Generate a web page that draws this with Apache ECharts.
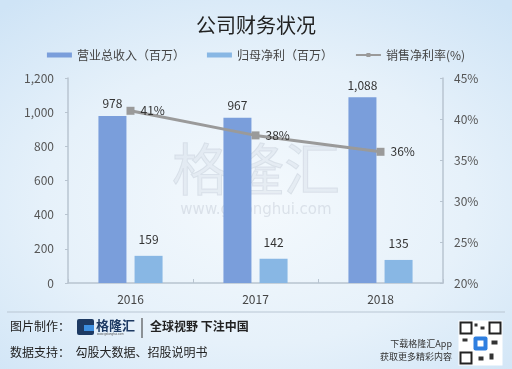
<!DOCTYPE html>
<html><head><meta charset="utf-8">
<script src="https://cdn.jsdelivr.net/npm/echarts@6/dist/echarts.min.js"></script>
<style>
html,body{margin:0;padding:0;}
#c{width:512px;height:369px;background:radial-gradient(ellipse 75% 70% at 50% 55%, #f4f9fd 0%, #e6f1fa 55%, #cfe4f6 100%);}
</style></head><body><div id="c"></div>
<script>
const categories = ['2016', '2017', '2018'];
const revenue = [978, 967, 1088];
const netProfit = [159, 142, 135];
const margin = [41, 38, 36];
const leftTicks = {min: 0, max: 1200, interval: 200};
const rightTicks = {min: 20, max: 45, interval: 5};

const chart = echarts.init(document.getElementById('c'));
const F = '"Noto Sans CJK SC", "Noto Sans", sans-serif';
chart.setOption({
  backgroundColor: 'transparent',
  textStyle: {fontFamily: F},
  title: {text: '公司财务状况', left: 'center', top: 10,
    textStyle: {fontSize: 20, fontWeight: 'normal', color: '#222', fontFamily: F}},
  legend: {top: 44, left: 'center', itemWidth: 25, itemHeight: 5, itemGap: 22,
    textStyle: {fontSize: 12, color: '#444', fontFamily: F},
    data: [{name: '营业总收入（百万）', icon: 'rect'}, {name: '归母净利（百万）', icon: 'rect'}, {name: '销售净利率(%)'}]},
  grid: {left: 68, right: 69, top: 78, bottom: 86},
  xAxis: {type: 'category', data: categories,
    axisLine: {lineStyle: {color: '#b8c4d0', width: 1.5}},
    axisTick: {show: true, inside: true, length: 4, lineStyle: {color: '#b8c4d0'}},
    axisLabel: {color: '#444', fontSize: 12, margin: 10}},
  yAxis: [
    {type: 'value', min: leftTicks.min, max: leftTicks.max, interval: leftTicks.interval,
      axisLine: {show: true, lineStyle: {color: '#b8c4d0', width: 1.5}},
      axisTick: {show: true, length: 3, lineStyle: {color: '#b8c4d0'}},
      splitLine: {show: false},
      axisLabel: {color: '#555', fontSize: 12, margin: 14,
        formatter: v => v.toLocaleString('en-US')}},
    {type: 'value', min: rightTicks.min, max: rightTicks.max, interval: rightTicks.interval,
      axisLine: {show: true, lineStyle: {color: '#b8c4d0', width: 1.5}},
      axisTick: {show: true, inside: true, length: 3, lineStyle: {color: '#b8c4d0'}},
      splitLine: {show: false},
      axisLabel: {color: '#555', fontSize: 12, margin: 11, formatter: '{value}%'}}
  ],
  series: [
    {name: '营业总收入（百万）', type: 'bar', data: revenue, barWidth: 28, barGap: '29%', z: 3,
      itemStyle: {color: '#7a9edb'},
      label: {show: true, position: 'top', distance: 6, color: '#333', fontSize: 12,
        formatter: p => p.value.toLocaleString('en-US')}},
    {name: '归母净利（百万）', type: 'bar', data: netProfit, barWidth: 28, z: 3,
      itemStyle: {color: '#88b7e4'},
      label: {show: true, position: 'top', distance: 10, color: '#333', fontSize: 12}},
    {name: '销售净利率(%)', type: 'line', yAxisIndex: 1, data: margin,
      symbol: 'rect', symbolSize: 8, z: 5,
      lineStyle: {color: '#9a9a9a', width: 3}, itemStyle: {color: '#9a9a9a'},
      label: {show: true, position: 'right', distance: 6, color: '#333', fontSize: 12, formatter: '{c}%'}}
  ],
  graphic: [
    {type: 'text', left: 'center', top: 140, z: -10, silent: true,
      style: {text: '格隆汇', font: '56px "Noto Sans CJK SC"', fill: 'rgba(195,202,214,0.25)', stroke: 'rgba(175,184,198,0.3)', lineWidth: 1}},
    {type: 'text', left: 'center', top: 203, z: -10, silent: true,
      style: {text: 'www.gelonghui.com', font: '15px "DejaVu Sans"', fill: 'rgba(185,192,205,0.4)'}},
    {type: 'line', shape: {x1: 7, y1: 312, x2: 505, y2: 312}, style: {stroke: '#b9c6d3', lineWidth: 1}},
    {type: 'text', left: 10, top: 320, style: {text: '图片制作：', font: '12px "Noto Sans CJK SC"', fill: '#222'}},
    {type: 'rect', shape: {x: 77, y: 319, width: 17, height: 16, r: 2}, style: {fill: '#1d3a63'}},
    {type: 'rect', shape: {x: 84, y: 325, width: 10, height: 6}, style: {fill: '#3d8fe0'}},
    {type: 'text', left: 96, top: 319, style: {text: '格隆汇', font: 'bold 13px "Noto Sans CJK SC"', fill: '#1d3a63'}},
    {type: 'text', left: 97, top: 333, style: {text: 'www.gelonghui.com', font: '3px sans-serif', fill: '#555'}},
    {type: 'line', shape: {x1: 142, y1: 318, x2: 142, y2: 338}, style: {stroke: '#333', lineWidth: 1}},
    {type: 'text', left: 150, top: 320, style: {text: '全球视野 下注中国', font: 'bold 12px "Noto Sans CJK SC"', fill: '#222'}},
    {type: 'text', left: 10, top: 346, style: {text: '数据支持：  勾股大数据、招股说明书', font: '12px "Noto Sans CJK SC"', fill: '#222'}},
    {type: 'text', right: 60, top: 339, style: {text: '下载格隆汇App', font: '9px "Noto Sans CJK SC"', fill: '#333', align: 'right'}},
    {type: 'text', right: 60, top: 352, style: {text: '获取更多精彩内容', font: '9px "Noto Sans CJK SC"', fill: '#333', align: 'right'}},
    {type: 'group', left: 458, top: 320, children: [
      {type: 'rect', shape: {x: 0, y: 0, width: 44, height: 45}, style: {fill: '#fff'}},
      {type: 'rect', shape: {x: 2, y: 2, width: 11, height: 11}, style: {fill: 'none', stroke: '#222', lineWidth: 2}},
      {type: 'rect', shape: {x: 31, y: 2, width: 11, height: 11}, style: {fill: 'none', stroke: '#222', lineWidth: 2}},
      {type: 'rect', shape: {x: 2, y: 32, width: 11, height: 11}, style: {fill: 'none', stroke: '#222', lineWidth: 2}},
      {type: 'rect', shape: {x: 16, y: 3, width: 3, height: 3}, style: {fill: '#333'}},
      {type: 'rect', shape: {x: 22, y: 6, width: 4, height: 3}, style: {fill: '#333'}},
      {type: 'rect', shape: {x: 4, y: 18, width: 5, height: 3}, style: {fill: '#333'}},
      {type: 'rect', shape: {x: 33, y: 20, width: 6, height: 4}, style: {fill: '#333'}},
      {type: 'rect', shape: {x: 20, y: 36, width: 5, height: 4}, style: {fill: '#333'}},
      {type: 'rect', shape: {x: 31, y: 33, width: 4, height: 6}, style: {fill: '#333'}},
      {type: 'rect', shape: {x: 15, y: 16, width: 14, height: 14, r: 2}, style: {fill: '#2f7fe0'}},
      {type: 'rect', shape: {x: 19, y: 20, width: 6, height: 6}, style: {fill: '#fff'}}
    ]}
  ]
});
</script></body></html>
